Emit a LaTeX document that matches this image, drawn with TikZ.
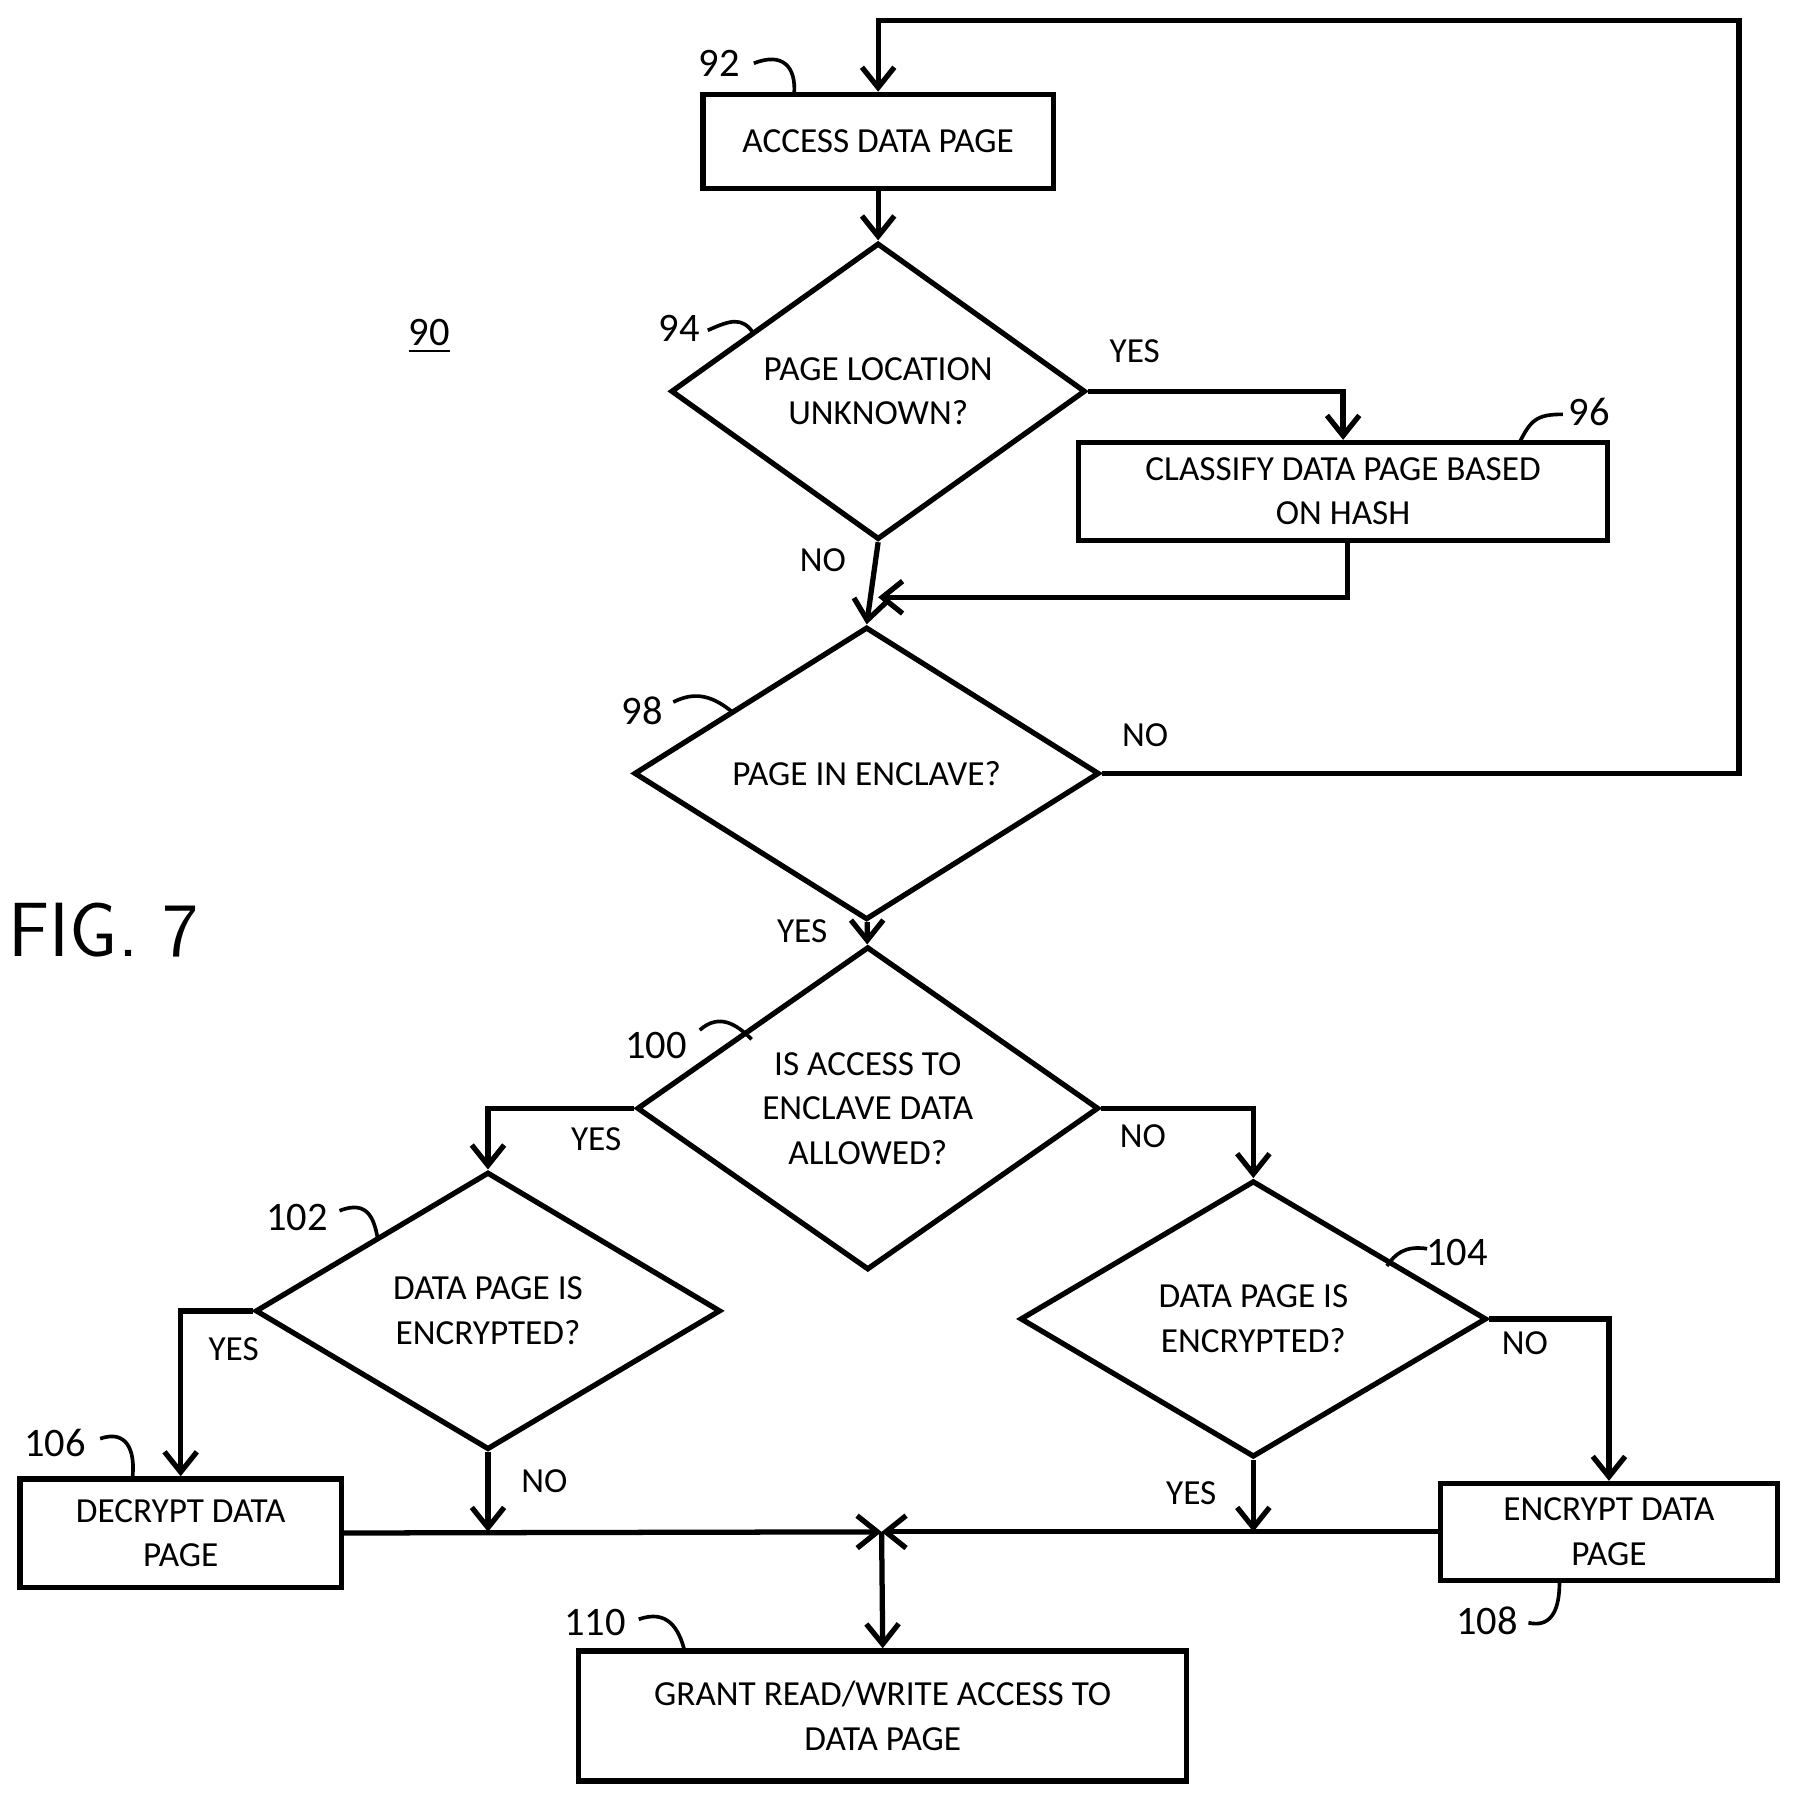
\documentclass[tikz,border=0pt]{standalone}
\usepackage{fontspec}
\setmainfont{Carlito}
\usetikzlibrary{shapes.geometric,arrows.meta}
\tikzset{
  stepbox/.style={draw, rectangle, line width=1.3pt, align=center, inner sep=0pt},
  testbox/.style={draw, diamond, line width=1.3pt, align=center, inner sep=0pt},
  flow/.style={line width=1.3pt, -{Straight Barb[length=5pt,width=8pt]}},
  line/.style={line width=1.3pt},
  tick/.style={line width=0.9pt},
}
\begin{document}
\begin{tikzpicture}[x=0.01cm, y=-0.01cm, font=\fontsize{8.7}{11}\selectfont]
\useasboundingbox (0,0) rectangle (1560,1564);

%Boxes
\node (access) at (763,123) [stepbox, minimum width=3.04cm, minimum height=0.82cm]{ACCESS DATA PAGE};
\node (classify) at (1167,427) [stepbox, minimum width=4.59cm, minimum height=0.85cm]{CLASSIFY DATA PAGE BASED\\ON HASH};
\node (decrypt) at (157,1332) [stepbox, minimum width=2.79cm, minimum height=0.94cm]{DECRYPT DATA\\PAGE};
\node (encrypt) at (1398,1331) [stepbox, minimum width=2.93cm, minimum height=0.84cm]{ENCRYPT DATA\\PAGE};
\node (grant) at (767,1491) [stepbox, minimum width=5.28cm, minimum height=1.13cm]{GRANT READ/WRITE ACCESS TO\\DATA PAGE};

%Decisions
\node (unknown) at (763,340) [testbox, minimum width=3.6cm, minimum height=2.45cm]{PAGE LOCATION\\UNKNOWN?};
\node (enclave) at (753,672) [testbox, minimum width=4.04cm, minimum height=2.41cm]{PAGE IN ENCLAVE?};
\node (allowed) at (754,963) [testbox, minimum width=4.01cm, minimum height=2.41cm]{IS ACCESS TO\\ENCLAVE DATA\\ALLOWED?};
\node (encl) at (424,1139) [testbox, minimum width=4.04cm, minimum height=2.41cm]{DATA PAGE IS\\ENCRYPTED?};
\node (encr) at (1089,1146) [testbox, minimum width=4.05cm, minimum height=2.40cm]{DATA PAGE IS\\ENCRYPTED?};

%Helper points
\coordinate (merge) at (763,519);
\coordinate (join) at (766,1331);
\coordinate (cbot) at (1171,470);

%Connectors
\draw[flow] (access) -- (unknown);
\draw[flow] (unknown.east) -| (classify.north);
\draw[flow] (cbot) |- (merge);
\draw[flow] (unknown.south) -- (enclave.north);
\draw[flow] (enclave.east) -- (1511,672) -- (1511,18) -- (763,18) -- (access.north);
\draw[flow] (enclave) -- (allowed);
\draw[flow] (allowed.west) -| (encl.north);
\draw[flow] (allowed.east) -| (encr.north);
\draw[flow] (encl.west) -| (decrypt.north);
\draw[flow] (encr.east) -| (encrypt.north);
\draw[flow] (encl.south) -- (encl.south |- join);
\draw[flow] (encr.south) -- (encr.south |- join);
\draw[flow] (decrypt.east) -- (join);
\draw[flow] (encrypt.west) -- (join);
\draw[flow] (join) -- (grant.north);

%Branch labels
\node at (986,305) {YES};
\node at (715,487) {NO};
\node at (995,639) {NO};
\node at (697,809) {YES};
\node at (518,990) {YES};
\node at (993,987) {NO};
\node at (203,1172) {YES};
\node at (473,1287) {NO};
\node at (1325,1167) {NO};
\node at (1035,1297) {YES};

%Reference numbers
\node (n92) at (625,55) {\fontsize{10}{12}\selectfont 92};
\draw[tick] (655,55) .. controls (680,45) and (692,58) .. (690,82);
\node (n94) at (590,285) {\fontsize{10}{12}\selectfont 94};
\draw[tick] (615,287) .. controls (635,278) and (645,275) .. (655,290);
\node (n96) at (1381,358) {\fontsize{10}{12}\selectfont 96};
\draw[tick] (1358,360) .. controls (1335,360) and (1330,365) .. (1320,385);
\node (n98) at (558,618) {\fontsize{10}{12}\selectfont 98};
\draw[tick] (585,610) .. controls (605,600) and (620,605) .. (638,620);
\node (n100) at (570,908) {\fontsize{10}{12}\selectfont 100};
\draw[tick] (608,895) .. controls (625,880) and (640,890) .. (653,903);
\node (n102) at (258,1058) {\fontsize{10}{12}\selectfont 102};
\draw[tick] (295,1052) .. controls (320,1042) and (325,1060) .. (328,1075);
\node (n104) at (1266,1088) {\fontsize{10}{12}\selectfont 104};
\draw[tick] (1240,1085) .. controls (1220,1082) and (1212,1090) .. (1205,1100);
\node (n106) at (48,1254) {\fontsize{10}{12}\selectfont 106};
\draw[tick] (87,1250) .. controls (110,1242) and (118,1260) .. (115,1285);
\node (n108) at (1292,1408) {\fontsize{10}{12}\selectfont 108};
\draw[tick] (1328,1410) .. controls (1350,1415) and (1355,1395) .. (1355,1375);
\node (n110) at (517,1410) {\fontsize{10}{12}\selectfont 110};
\draw[tick] (555,1407) .. controls (580,1398) and (590,1415) .. (595,1435);

%Figure labels
\node (fig) at (90,808) {\sffamily\fontsize{19}{22}\selectfont FIG. 7};
\node (n90) at (373,292) {\fontsize{10}{12}\selectfont \underline{90}};
\end{tikzpicture}
\end{document}
